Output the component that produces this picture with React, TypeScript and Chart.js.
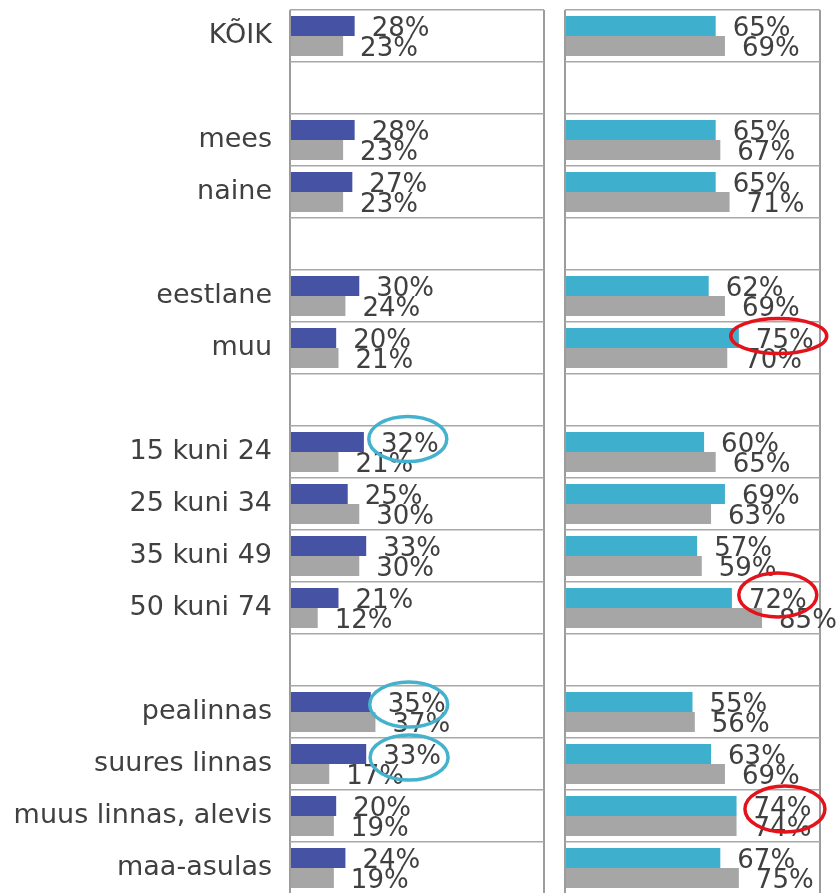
import { useEffect, useRef } from "react";
import { Chart, registerables } from "chart.js";

Chart.register(...registerables);

const categories = [
  "KÕIK", "", "mees", "naine", "", "eestlane", "muu", "",
  "15 kuni 24", "25 kuni 34", "35 kuni 49", "50 kuni 74", "",
  "pealinnas", "suures linnas", "muus linnas, alevis", "maa-asulas",
];

const leftBlue = [28, null, 28, 27, null, 30, 20, null, 32, 25, 33, 21, null, 35, 33, 20, 24];
const leftGray = [23, null, 23, 23, null, 24, 21, null, 21, 30, 30, 12, null, 37, 17, 19, 19];
const rightCyan = [65, null, 65, 65, null, 62, 75, null, 60, 69, 57, 72, null, 55, 63, 74, 67];
const rightGray = [69, null, 67, 71, null, 69, 70, null, 65, 63, 59, 85, null, 56, 69, 74, 75];

const axisMax = 110;

const BLUE = "#4653A5";
const CYAN = "#3EB0CD";
const GRAY = "#A6A6A6";
const TEXT = "#404040";
const FONT = '"DejaVu Sans", Verdana, sans-serif';

type Highlight = { row: number; ds: number; dx: number; dy: number; rx: number; ry: number; color: string };

const leftHighlights: Highlight[] = [
  { row: 8, ds: 0, dx: -2, dy: -3, rx: 39, ry: 22.5, color: "#45B2CD" },
  { row: 13, ds: 0, dx: -8, dy: 2.5, rx: 39, ry: 22.5, color: "#45B2CD" },
  { row: 14, ds: 0, dx: -3, dy: 3.5, rx: 39, ry: 22.5, color: "#45B2CD" },
];
const rightHighlights: Highlight[] = [
  { row: 6, ds: 0, dx: -6, dy: -2, rx: 48, ry: 17.5, color: "#E3131B" },
  { row: 11, ds: 0, dx: 0, dy: -3, rx: 39, ry: 22, color: "#E3131B" },
  { row: 15, ds: 0, dx: 2.5, dy: 3, rx: 40, ry: 23, color: "#E3131B" },
];

function labelPlugin(highlights: Highlight[]) {
  return {
    id: "valueLabels",
    afterDatasetsDraw(chart: any) {
      const ctx = chart.ctx;
      ctx.save();
      ctx.font = `26px ${FONT}`;
      ctx.fillStyle = TEXT;
      ctx.textAlign = "left";
      ctx.textBaseline = "alphabetic";
      chart.data.datasets.forEach((ds: any, di: number) => {
        const meta = chart.getDatasetMeta(di);
        meta.data.forEach((el: any, i: number) => {
          const v = ds.data[i];
          if (v == null) return;
          ctx.fillText(`${v}%`, el.x + 17, el.y + 10);
        });
      });
      highlights.forEach((h) => {
        const el = chart.getDatasetMeta(h.ds).data[h.row];
        const v = chart.data.datasets[h.ds].data[h.row];
        const w = ctx.measureText(`${v}%`).width;
        const cx = el.x + 17 + w / 2 + h.dx;
        const cy = el.y + h.dy;
        ctx.beginPath();
        ctx.ellipse(cx, cy, h.rx, h.ry, 0, 0, Math.PI * 2);
        ctx.strokeStyle = h.color;
        ctx.lineWidth = 3.5;
        ctx.stroke();
      });
      ctx.restore();
    },
  };
}

function buildConfig(
  a: (number | null)[],
  b: (number | null)[],
  colorA: string,
  showLabels: boolean,
  yWidth: number,
  highlights: Highlight[],
  padding: any
): any {
  return {
    type: "bar",
    data: {
      labels: categories,
      datasets: [
        { data: a, backgroundColor: colorA, categoryPercentage: 0.77, barPercentage: 1 },
        { data: b, backgroundColor: GRAY, categoryPercentage: 0.77, barPercentage: 1 },
      ],
    },
    options: {
      indexAxis: "y",
      responsive: false,
      animation: false,
      layout: { padding },
      plugins: { legend: { display: false }, tooltip: { enabled: false } },
      scales: {
        x: {
          min: 0,
          max: axisMax,
          ticks: { display: false, stepSize: axisMax },
          grid: { color: "#9C9C9C", lineWidth: 2, drawTicks: false },
          border: { display: false },
          afterFit: (s: any) => {
            s.height = 0;
            s.paddingLeft = 0;
            s.paddingRight = 0;
          },
        },
        y: {
          ticks: {
            display: showLabels,
            autoSkip: false,
            font: { family: FONT, size: 27 },
            color: TEXT,
            padding: 18,
          },
          grid: { offset: true, color: "#A8A8A8", lineWidth: 1.5, drawTicks: false },
          border: { display: false },
          afterFit: (s: any) => {
            s.width = yWidth;
            s.paddingTop = 0;
            s.paddingBottom = 0;
          },
        },
      },
    },
    plugins: [labelPlugin(highlights)],
  };
}

export default function App() {
  const leftRef = useRef<HTMLCanvasElement>(null);
  const rightRef = useRef<HTMLCanvasElement>(null);

  useEffect(() => {
    const left = new Chart(
      leftRef.current as HTMLCanvasElement,
      buildConfig(leftBlue, leftGray, BLUE, true, 290, leftHighlights, { top: 10, right: 2, bottom: 2, left: 0 })
    );
    const right = new Chart(
      rightRef.current as HTMLCanvasElement,
      buildConfig(rightCyan, rightGray, CYAN, false, 0, rightHighlights, { top: 10, right: 20, bottom: 2, left: 20 })
    );
    return () => {
      left.destroy();
      right.destroy();
    };
  }, []);

  return (
    <div
      style={{
        position: "absolute",
        left: 0,
        top: 0,
        width: 840,
        height: 893,
        overflow: "hidden",
        background: "#fff",
      }}
    >
      <canvas ref={leftRef} width={546} height={896} style={{ position: "absolute", left: 0, top: 0 }} />
      <canvas ref={rightRef} width={295} height={896} style={{ position: "absolute", left: 545, top: 0 }} />
    </div>
  );
}
